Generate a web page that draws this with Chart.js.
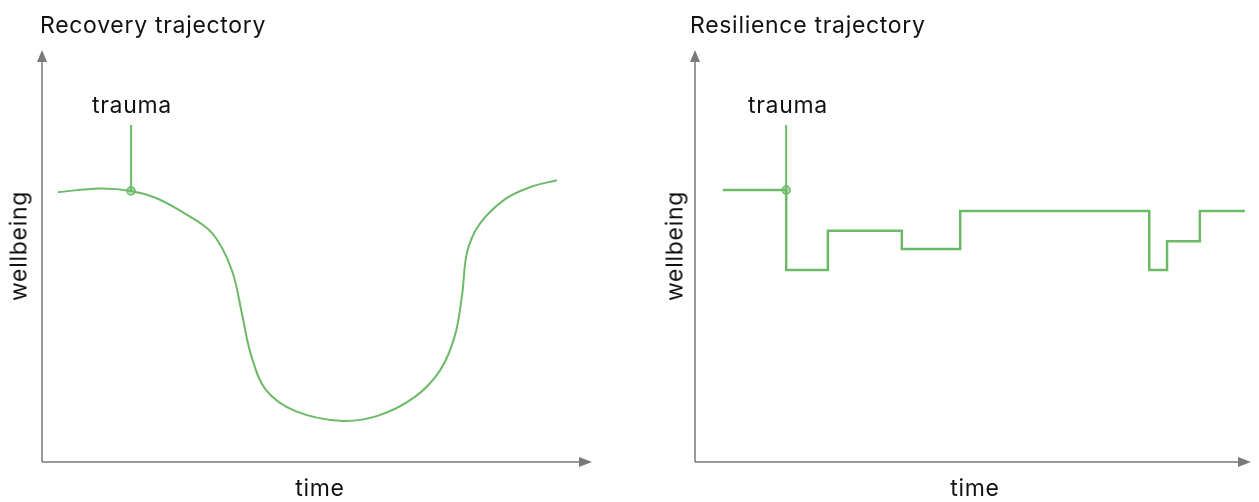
<!DOCTYPE html>
<html>
<head>
<meta charset="utf-8">
<script src="https://cdn.jsdelivr.net/npm/chart.js@4.4.1/dist/chart.umd.min.js"></script>
<style>
  html, body { margin: 0; padding: 0; background: #fff; }
  body { width: 1259px; height: 502px; position: relative; overflow: hidden;
         font-family: Inter, "Liberation Sans", Arial, sans-serif; color: #111; }
  canvas { position: absolute; top: 0; }
  .lbl { position: absolute; white-space: nowrap; line-height: 1; font-size: 23px; letter-spacing: 0.7px; }
  .note { transform: translateX(-50%); }
  .ytitle { transform: translate(-50%, -50%) rotate(-90deg); }
  .xtitle { transform: translateX(-50%); }
</style>
</head>
<body>
<canvas id="recoveryChart" width="620" height="502" style="left:0"></canvas>
<canvas id="resilienceChart" width="619" height="502" style="left:640px"></canvas>

<div class="lbl" style="left:40px; top:14px">Recovery trajectory</div>
<div class="lbl" style="left:690px; top:14px">Resilience trajectory</div>
<div class="lbl note" style="left:132px; top:94px">trauma</div>
<div class="lbl note" style="left:788px; top:94px">trauma</div>
<div class="lbl ytitle" style="left:19px; top:246px">wellbeing</div>
<div class="lbl ytitle" style="left:675px; top:246px">wellbeing</div>
<div class="lbl xtitle" style="left:320px; top:477px">time</div>
<div class="lbl xtitle" style="left:975px; top:477px">time</div>

<script>
// Recovery curve (time 0-100, wellbeing 0-100)
const recoveryTime = [2.9, 10.5, 16.2, 20.5, 25.1, 30.9, 34.5, 36.4, 38.0, 40.7, 46.0, 54.2,
                      61.0, 67.8, 72.4, 75.1, 76.4, 77.3, 79.6, 84.2, 88.7, 93.6];
const recoveryWellbeing = [65.5, 66.4, 65.8, 64.2, 61.0, 55.6, 46.6, 35.7, 26.0, 17.5, 12.4, 10.0,
                           11.2, 15.8, 22.3, 30.8, 40.8, 51.0, 57.8, 63.8, 66.7, 68.4];
const recoveryTrauma = { time: 16.2, top: 81.8, at: 65.8 };

// Resilience steps (each value holds until the next time)
const resilienceTime = [5.0, 16.4, 23.9, 37.2, 47.7, 81.7, 84.9, 90.8, 98.9];
const resilienceWellbeing = [66.0, 46.6, 56.1, 51.7, 60.9, 46.6, 53.6, 60.9, 60.9];
const resilienceTrauma = { time: 16.4, top: 81.8, at: 66.0 };

const lineColor = '#6cba69';
const axisColor = '#7a7a7a';

// Axes with arrow heads
const arrowAxes = {
    id: 'arrowAxes',
    afterDraw(chart) {
        const { ctx, chartArea } = chart;
        const { left, right, top, bottom } = chartArea;
        ctx.save();
        ctx.strokeStyle = axisColor;
        ctx.fillStyle = axisColor;
        ctx.lineWidth = 1.5;
        ctx.beginPath();
        ctx.moveTo(left, bottom);
        ctx.lineTo(left, top + 6);
        ctx.moveTo(left, bottom);
        ctx.lineTo(right - 6, bottom);
        ctx.stroke();
        ctx.beginPath();
        ctx.moveTo(left, top);
        ctx.lineTo(left - 5, top + 12);
        ctx.lineTo(left + 5, top + 12);
        ctx.closePath();
        ctx.fill();
        ctx.beginPath();
        ctx.moveTo(right, bottom);
        ctx.lineTo(right - 13, bottom - 5);
        ctx.lineTo(right - 13, bottom + 5);
        ctx.closePath();
        ctx.fill();
        ctx.restore();
    }
};

function traumaSets(trauma) {
    return [
        {
            data: [{ x: trauma.time, y: trauma.top }, { x: trauma.time, y: trauma.at }],
            borderColor: lineColor,
            borderWidth: 2,
            pointRadius: 0
        },
        {
            data: [{ x: trauma.time, y: trauma.at }],
            showLine: false,
            pointRadius: 4,
            pointBorderWidth: 1.5,
            pointBorderColor: lineColor,
            pointBackgroundColor: 'rgba(170, 220, 165, 0.9)'
        }
    ];
}

function baseOptions(padding) {
    return {
        responsive: false,
        animation: false,
        layout: { padding: padding },
        plugins: { legend: { display: false }, tooltip: { enabled: false }, title: { display: false } },
        scales: {
            x: { type: 'linear', min: 0, max: 100, display: false },
            y: { type: 'linear', min: 0, max: 100, display: false }
        }
    };
}

new Chart(document.getElementById('recoveryChart').getContext('2d'), {
    type: 'line',
    data: {
        datasets: [
            {
                data: recoveryTime.map((t, i) => ({ x: t, y: recoveryWellbeing[i] })),
                borderColor: lineColor,
                borderWidth: 2,
                pointRadius: 0,
                tension: 0.35
            },
            ...traumaSets(recoveryTrauma)
        ]
    },
    options: baseOptions({ left: 42, right: 28, top: 50, bottom: 40 }),
    plugins: [arrowAxes]
});

new Chart(document.getElementById('resilienceChart').getContext('2d'), {
    type: 'line',
    data: {
        datasets: [
            {
                data: resilienceTime.map((t, i) => ({ x: t, y: resilienceWellbeing[i] })),
                borderColor: lineColor,
                borderWidth: 2.5,
                pointRadius: 0,
                stepped: 'before'
            },
            ...traumaSets(resilienceTrauma)
        ]
    },
    options: baseOptions({ left: 55, right: 8, top: 50, bottom: 40 }),
    plugins: [arrowAxes]
});
</script>
</body>
</html>
